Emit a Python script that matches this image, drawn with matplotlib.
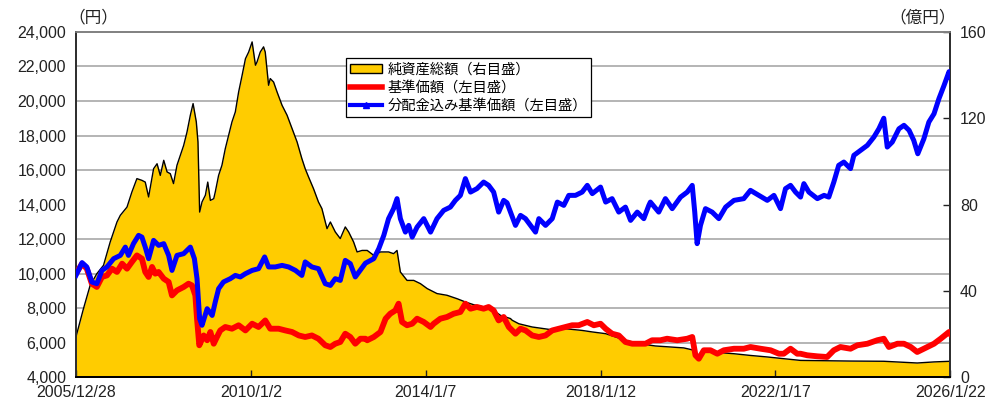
import matplotlib
matplotlib.use('Agg')
import matplotlib.pyplot as plt
import matplotlib.ticker as mticker
import pandas as pd
from matplotlib.patches import Patch
from matplotlib.lines import Line2D

plt.rcParams['font.family'] = ['Liberation Sans', 'Noto Sans CJK JP', 'DejaVu Sans']

# ---------------- data ----------------
nav_dates = ["2005-12-28", "2006-03-01", "2006-04-26", "2006-06-21", "2006-08-16", "2006-10-11",
             "2006-12-07", "2007-01-04", "2007-03-01", "2007-04-11", "2007-05-23", "2007-07-04",
             "2007-08-01", "2007-08-29", "2007-10-10", "2007-11-08", "2007-12-05", "2008-01-03",
             "2008-01-31", "2008-02-27", "2008-03-25", "2008-04-23", "2008-05-21", "2008-06-18",
             "2008-07-16", "2008-08-13", "2008-09-05", "2008-10-02", "2008-10-16", "2008-10-30",
             "2008-11-19", "2008-12-17", "2009-01-06", "2009-01-28", "2009-02-25", "2009-03-10",
             "2009-04-07", "2009-05-05", "2009-06-02", "2009-06-30", "2009-07-28", "2009-08-25",
             "2009-09-22", "2009-10-21", "2009-11-18", "2009-12-15", "2010-01-13", "2010-02-10",
             "2010-02-23", "2010-03-22", "2010-04-19", "2010-05-03", "2010-05-17", "2010-05-31",
             "2010-06-14", "2010-07-12", "2010-08-10", "2010-09-21", "2010-11-02", "2010-12-14",
             "2011-01-25", "2011-03-06", "2011-04-03", "2011-05-01", "2011-06-12", "2011-07-23",
             "2011-08-21", "2011-10-03", "2011-10-31", "2011-12-11", "2012-01-22", "2012-03-04",
             "2012-04-01", "2012-05-13", "2012-06-11", "2012-07-23", "2012-09-04", "2012-10-29",
             "2012-12-24", "2013-03-02", "2013-04-13", "2013-05-12", "2013-06-09", "2013-08-04",
             "2013-09-29", "2013-11-24", "2014-01-20", "2014-04-12", "2014-07-05", "2014-09-28",
             "2014-12-06", "2015-02-15", "2015-05-08", "2015-07-31", "2015-09-26", "2015-12-19",
             "2016-01-03", "2016-02-27", "2016-06-18", "2016-11-05", "2017-03-24", "2017-08-11",
             "2017-11-04", "2018-02-24", "2018-05-17", "2018-08-09", "2018-11-29", "2019-04-17",
             "2019-12-11", "2020-02-20", "2020-03-25", "2020-04-29", "2020-06-10", "2020-09-17",
             "2021-02-04", "2021-06-22", "2021-11-10", "2022-03-28", "2022-08-16", "2023-10-09",
             "2024-07-14", "2025-04-20", "2025-09-08", "2026-01-22"]
nav_values = [18.6, 31.7, 42.5, 47.9, 51.8, 62.6,
              71.9, 75.0, 78.8, 85.8, 92.0, 91.2,
              90.4, 83.5, 96.6, 98.9, 93.5, 100.5,
              95.1, 94.3, 89.7, 98.2, 102.8, 107.4,
              113.6, 121.4, 126.8, 118.3, 109.0, 76.5,
              81.2, 84.3, 90.4, 81.9, 82.7, 85.8,
              93.5, 98.2, 105.9, 112.1, 118.3, 122.9,
              132.2, 139.9, 147.6, 150.7, 155.4, 144.6,
              146.1, 150.7, 153.1, 150.7, 143.0, 135.3,
              138.4, 136.8, 132.2, 126.0, 121.4, 115.2,
              109.0, 101.3, 96.6, 92.8, 87.3, 81.2,
              78.1, 68.8, 71.9, 67.3, 64.2, 69.6,
              67.3, 62.6, 58.0, 58.7, 58.7, 56.4,
              58.0, 58.0, 57.2, 58.7, 48.7, 44.8,
              44.8, 43.3, 41.0, 38.7, 37.9, 36.3,
              34.8, 33.5, 32.5, 30.9, 28.6, 27.1,
              26.3, 24.7, 23.2, 22.1, 22.4, 21.6,
              20.9, 20.1, 18.6, 17.0, 15.5, 14.4,
              13.5, 12.6, 9.5, 11.0, 11.6, 11.4,
              10.8, 10.0, 9.3, 8.5, 7.7, 7.4,
              7.3, 6.5, 7.0, 7.3]

price_dates = ["2005-12-28", "2006-02-17", "2006-03-29", "2006-05-10", "2006-06-21", "2006-08-03",
               "2006-09-14", "2006-10-26", "2006-12-07", "2007-01-19", "2007-03-01", "2007-04-11",
               "2007-05-23", "2007-07-04", "2007-08-01", "2007-08-29", "2007-09-27", "2007-10-24",
               "2007-11-21", "2008-01-03", "2008-02-13", "2008-03-12", "2008-04-23", "2008-06-18",
               "2008-07-29", "2008-08-27", "2008-09-24", "2008-10-08", "2008-10-27", "2008-12-03",
               "2009-01-01", "2009-01-28", "2009-02-25", "2009-03-24", "2009-04-21", "2009-06-02",
               "2009-07-28", "2009-09-22", "2009-11-18", "2010-01-13", "2010-03-08", "2010-05-03",
               "2010-06-14", "2010-08-23", "2010-10-18", "2010-12-14", "2011-02-08", "2011-04-03",
               "2011-05-29", "2011-07-23", "2011-09-18", "2011-10-31", "2011-12-11", "2012-01-22",
               "2012-03-04", "2012-04-15", "2012-05-27", "2012-07-09", "2012-08-20", "2012-09-04",
               "2012-10-29", "2012-12-24", "2013-02-05", "2013-03-16", "2013-04-28", "2013-05-25",
               "2013-06-23", "2013-08-04", "2013-09-16", "2013-10-27", "2013-12-22", "2014-02-17",
               "2014-03-15", "2014-05-10", "2014-07-05", "2014-08-30", "2014-10-25", "2014-12-06",
               "2015-01-18", "2015-03-13", "2015-05-08", "2015-06-19", "2015-07-31", "2015-09-11",
               "2015-10-23", "2015-11-07", "2015-12-05", "2016-01-30", "2016-03-12", "2016-04-23",
               "2016-06-18", "2016-08-13", "2016-10-08", "2016-12-03", "2017-01-28", "2017-03-24",
               "2017-05-19", "2017-07-13", "2017-09-23", "2017-11-17", "2018-01-12", "2018-02-24",
               "2018-04-19", "2018-06-14", "2018-08-09", "2018-10-05", "2018-11-29", "2019-01-24",
               "2019-03-20", "2019-05-29", "2019-07-24", "2019-10-17", "2020-01-09", "2020-02-20",
               "2020-03-18", "2020-04-15", "2020-05-27", "2020-07-22", "2020-09-17", "2020-11-11",
               "2021-02-04", "2021-04-27", "2021-06-22", "2021-09-15", "2021-12-08", "2022-02-16",
               "2022-03-28", "2022-05-24", "2022-07-19", "2022-08-16", "2022-10-11", "2023-01-04",
               "2023-03-27", "2023-05-22", "2023-07-16", "2023-10-09", "2023-12-05", "2024-02-27",
               "2024-05-20", "2024-07-14", "2024-08-26", "2024-11-05", "2024-12-30", "2025-02-25",
               "2025-04-20", "2025-06-15", "2025-09-08", "2025-11-03", "2026-01-12", "2026-01-22"]
price_values = [9990, 10570, 10280, 9410, 9220, 9800,
                9890, 10280, 10090, 10570, 10280, 10670,
                11050, 10860, 10090, 9800, 10380, 9990,
                10090, 9700, 9510, 8730, 9020, 9220,
                9410, 9310, 8730, 7380, 5840, 6410,
                6130, 6610, 5930, 6320, 6700, 6900,
                6800, 7000, 6700, 7090, 6900, 7280,
                6800, 6800, 6700, 6610, 6410, 6320,
                6410, 6220, 5840, 5740, 5930, 6030,
                6510, 6320, 5930, 6220, 6220, 6130,
                6320, 6610, 7380, 7670, 7860, 8250,
                7190, 7000, 7090, 7380, 7190, 6900,
                7090, 7380, 7480, 7670, 7770, 8250,
                7960, 8060, 7960, 8060, 7860, 7280,
                7480, 7280, 6900, 6510, 6800, 6700,
                6410, 6320, 6410, 6700, 6800, 6900,
                7000, 7000, 7190, 7000, 7090, 6800,
                6510, 6410, 6030, 5930, 5930, 5930,
                6130, 6130, 6220, 6130, 6220, 6320,
                5260, 5060, 5550, 5550, 5350, 5550,
                5640, 5640, 5740, 5640, 5550, 5350,
                5350, 5640, 5350, 5350, 5260, 5200,
                5160, 5550, 5740, 5640, 5840, 5930,
                6130, 6220, 5740, 5930, 5930, 5740,
                5450, 5640, 5930, 6220, 6610, 6510]

total_dates = ["2005-12-28", "2006-02-17", "2006-03-29", "2006-05-10", "2006-06-21", "2006-08-03",
               "2006-09-14", "2006-11-09", "2007-01-04", "2007-02-15", "2007-03-13", "2007-04-24",
               "2007-06-06", "2007-07-04", "2007-08-01", "2007-08-29", "2007-10-10", "2007-11-21",
               "2008-01-03", "2008-02-13", "2008-03-12", "2008-04-23", "2008-06-18", "2008-08-13",
               "2008-09-16", "2008-10-08", "2008-10-30", "2008-11-19", "2009-01-01", "2009-02-12",
               "2009-03-10", "2009-04-07", "2009-05-18", "2009-07-14", "2009-08-25", "2009-10-06",
               "2009-11-18", "2010-01-13", "2010-03-08", "2010-04-28", "2010-05-31", "2010-07-26",
               "2010-09-21", "2010-11-15", "2011-01-11", "2011-03-06", "2011-04-03", "2011-05-29",
               "2011-07-23", "2011-09-18", "2011-10-31", "2011-12-11", "2012-01-22", "2012-03-04",
               "2012-04-15", "2012-05-27", "2012-07-09", "2012-08-20", "2012-10-29", "2012-12-10",
               "2013-01-21", "2013-03-02", "2013-04-13", "2013-05-12", "2013-06-09", "2013-07-21",
               "2013-08-18", "2013-09-16", "2013-10-27", "2013-12-22", "2014-02-17", "2014-04-12",
               "2014-06-07", "2014-08-02", "2014-09-13", "2014-10-25", "2014-12-06", "2015-01-18",
               "2015-03-13", "2015-05-08", "2015-06-19", "2015-07-31", "2015-09-11", "2015-10-23",
               "2015-11-20", "2015-12-19", "2016-01-30", "2016-03-12", "2016-04-23", "2016-06-04",
               "2016-07-16", "2016-08-13", "2016-10-08", "2016-12-03", "2017-01-15", "2017-03-10",
               "2017-04-21", "2017-06-16", "2017-08-11", "2017-09-23", "2017-11-04", "2018-01-12",
               "2018-02-24", "2018-04-19", "2018-06-14", "2018-08-09", "2018-09-21", "2018-11-16",
               "2019-01-10", "2019-02-21", "2019-03-06", "2019-05-15", "2019-07-10", "2019-09-05",
               "2019-11-14", "2020-01-09", "2020-02-20", "2020-03-12", "2020-04-01", "2020-04-29",
               "2020-06-10", "2020-08-05", "2020-09-30", "2020-11-26", "2021-02-04", "2021-04-27",
               "2021-06-22", "2021-08-31", "2021-11-10", "2022-01-05", "2022-03-01", "2022-04-12",
               "2022-05-24", "2022-07-05", "2022-08-16", "2022-09-13", "2022-10-25", "2023-01-04",
               "2023-03-01", "2023-04-10", "2023-05-22", "2023-07-02", "2023-08-14", "2023-10-09",
               "2023-11-06", "2024-01-02", "2024-02-27", "2024-04-22", "2024-06-03", "2024-07-14",
               "2024-08-12", "2024-09-23", "2024-11-18", "2024-12-30", "2025-02-11", "2025-03-22",
               "2025-04-25", "2025-06-15", "2025-07-27", "2025-09-08", "2025-10-19", "2025-12-01",
               "2026-01-12", "2026-01-22"]
total_values = [9890, 10630, 10380, 9510, 9410, 10180,
                10380, 10860, 11050, 11530, 11050, 11730,
                12210, 12110, 11530, 10860, 11920, 11630,
                11730, 11050, 10180, 11050, 11150, 11530,
                10860, 9700, 7380, 7000, 7960, 7570,
                8350, 9120, 9510, 9700, 9890, 9800,
                9990, 10180, 10280, 10960, 10380, 10380,
                10470, 10380, 10180, 9890, 10670, 10380,
                10280, 9410, 9310, 9700, 9600, 10760,
                10570, 9800, 10200, 10600, 10860, 11440,
                12210, 13180, 13760, 14340, 13180, 12400,
                12790, 12110, 12690, 13180, 12400, 13180,
                13660, 13850, 14240, 14530, 15500, 14720,
                14920, 15300, 15110, 14720, 13560, 14240,
                14100, 13560, 12790, 13370, 13180, 12790,
                12400, 13180, 12790, 13180, 14140, 13950,
                14530, 14530, 14720, 15110, 14630, 15010,
                14140, 14340, 13560, 13850, 13080, 13560,
                13180, 13950, 14140, 13560, 14340, 13760,
                14430, 14720, 15110, 13560, 11730, 12790,
                13760, 13560, 13180, 13850, 14240, 14340,
                14820, 14530, 14240, 14530, 13760, 14920,
                15110, 14720, 14430, 15210, 14720, 14340,
                14530, 14430, 15300, 16270, 16460, 16080,
                16850, 17140, 17430, 17910, 18390, 19000,
                17330, 17620, 18390, 18590, 18300, 17720,
                16940, 17810, 18780, 19260, 20130, 20900,
                21700, 21400]

x_tick_dates = ["2005-12-28", "2010-01-02", "2014-01-07", "2018-01-12", "2022-01-17", "2026-01-22"]
x_tick_labels = ["2005/12/28", "2010/1/2", "2014/1/7", "2018/1/12", "2022/1/17", "2026/1/22"]
left_ticks = list(range(4000, 24001, 2000))
right_ticks = [0, 40, 80, 120, 160]

legend_labels = ["純資産総額（右目盛）", "基準価額（左目盛）", "分配金込み基準価額（左目盛）"]

# ---------------- plot ----------------
nav_d = pd.to_datetime(nav_dates)
price_d = pd.to_datetime(price_dates)
total_d = pd.to_datetime(total_dates)
xt = pd.to_datetime(x_tick_dates)

fig = plt.figure(figsize=(9.89, 4.04), dpi=100)
ax = fig.add_axes([0.0768, 0.0668, 0.884, 0.854])
ax2 = ax.twinx()
ax.set_zorder(ax2.get_zorder() + 1)
ax.patch.set_visible(False)
ax2.set_facecolor('white')

# right axis: net assets area
ax2.fill_between(nav_d, 0, nav_values, color='#FFCC00', lw=0, zorder=2)
ax2.plot(nav_d, nav_values, color='black', lw=1.0, zorder=3)
ax2.set_ylim(0, 160)
ax2.set_yticks(right_ticks)
ax2.set_yticks([v for v in range(0, 161, 16)], minor=True)
ax2.grid(True, which='minor', axis='y', color='#a0a0a0', lw=1.1, zorder=1)
ax2.set_axisbelow(True)
ax2.tick_params(axis='y', which='major', direction='in', length=5, width=1,
                labelsize=11.5, pad=7, colors='#222222')
ax2.tick_params(axis='y', which='minor', length=0)

# left axis: lines
ax.plot(price_d, price_values, color='#FF0000', lw=4.2, zorder=3)
ax.plot(total_d, total_values, color='#0000FF', lw=3.6, zorder=4)
ax.set_ylim(4000, 24000)
ax.set_yticks(left_ticks)
ax.yaxis.set_major_formatter(mticker.FuncFormatter(lambda v, p: f"{int(v):,}"))
ax.tick_params(axis='y', length=0, labelsize=11.5, pad=7, colors='#222222')

ax.set_xlim(xt[0], xt[-1])
ax.set_xticks(xt)
ax.set_xticklabels(x_tick_labels)
ax.tick_params(axis='x', direction='in', length=5, width=1, labelsize=11.5, pad=6,
               colors='#222222')
ax2.tick_params(axis='x', length=0)

for a in (ax, ax2):
    a.spines['top'].set_color('#808080')
    a.spines['top'].set_linewidth(1.2)
    a.spines['left'].set_color('#303030')
    a.spines['right'].set_color('#303030')
    a.spines['bottom'].set_color('#000000')
    for s in ('left', 'right', 'bottom'):
        a.spines[s].set_linewidth(1.4)

fig.text(93 / 989, 1 - 17 / 404, '（円）', ha='center', va='center', fontsize=12, color='#222222')
fig.text(923 / 989, 1 - 17 / 404, '（億円）', ha='center', va='center', fontsize=12, color='#222222')

handles = [Patch(facecolor='#FFCC00', edgecolor='black', lw=1.0),
           Line2D([], [], color='#FF0000', lw=4),
           Line2D([], [], color='#0000FF', lw=3, marker='^', markersize=4)]
leg = ax.legend(handles, legend_labels, loc='upper left', bbox_to_anchor=(0.309, 0.925),
                borderaxespad=0, frameon=True, fancybox=False, framealpha=1,
                edgecolor='black', fontsize=10.3, handlelength=2.2, handleheight=0.6,
                labelspacing=0.3, borderpad=0.3, handletextpad=0.4)
leg.get_frame().set_linewidth(0.9)

fig.savefig('out.png', dpi=100)
